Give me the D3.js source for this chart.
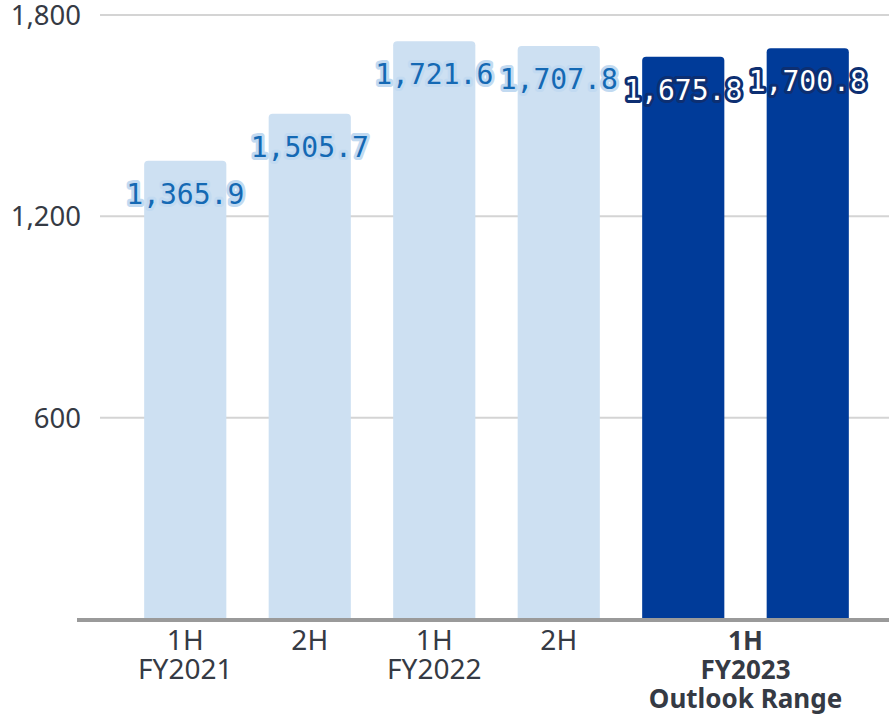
<!DOCTYPE html>
<html><head><meta charset="utf-8">
<script src="https://cdn.jsdelivr.net/npm/d3@7"></script>
<style>body{margin:0;background:#fff}</style>
</head><body>
<svg id="c" width="889" height="715"></svg>
<script>
const categories = ["1H FY2021","2H FY2021","1H FY2022","2H FY2022","1H FY2023 Low","1H FY2023 High"];
const values = [1365.9, 1505.7, 1721.6, 1707.8, 1675.8, 1700.8];
const outlook = [false,false,false,false,true,true];
const yTicks = [600, 1200, 1800];
const xLabels = [
  {from:0, to:0, lines:["1H","FY2021"], bold:false},
  {from:1, to:1, lines:["2H"], bold:false},
  {from:2, to:2, lines:["1H","FY2022"], bold:false},
  {from:3, to:3, lines:["2H"], bold:false},
  {from:4, to:5, lines:["1H","FY2023","Outlook Range"], bold:true}
];

const svg = d3.select("#c");
const x = d3.scaleBand().domain(categories).range([123, 870]).paddingInner(0.34).paddingOuter(0.17);
const y = d3.scaleLinear().domain([0, 1800]).range([619, 15]);

// gridlines
svg.append("g").selectAll("line").data(yTicks).join("line")
  .attr("x1", 100).attr("x2", 889)
  .attr("y1", d => y(d)).attr("y2", d => y(d))
  .attr("stroke", "#d4d4d4").attr("stroke-width", 2);

// y tick labels
const yAxis = d3.axisLeft(y).tickValues(yTicks).tickSize(0).tickPadding(0).tickFormat(d3.format(","));
const ya = svg.append("g").attr("transform", "translate(81,0)").call(yAxis);
ya.select(".domain").remove();
ya.selectAll("text").attr("font-family", "'Noto Sans', 'Open Sans', sans-serif")
  .attr("font-size", 27.5).attr("fill", "#353a44").attr("dy", "0.35em");

// bars
const r = 4;
svg.append("g").selectAll("path").data(categories).join("path")
  .attr("d", (c, i) => {
    const x0 = x(c), w = x.bandwidth(), yt = y(values[i]), yb = y(0);
    return `M${x0},${yb}V${yt + r}Q${x0},${yt} ${x0 + r},${yt}H${x0 + w - r}Q${x0 + w},${yt} ${x0 + w},${yt + r}V${yb}Z`;
  })
  .attr("fill", (c, i) => outlook[i] ? "#003b99" : "#cde0f2");

// baseline
svg.append("line").attr("x1", 77).attr("x2", 889).attr("y1", y(0) + 1).attr("y2", y(0) + 1)
  .attr("stroke", "#9a9a9a").attr("stroke-width", 4);

// value labels
const fmt = d3.format(",.1f");
svg.append("g").selectAll("text").data(categories).join("text")
  .attr("x", c => x(c) + x.bandwidth() / 2)
  .attr("y", (c, i) => y(values[i]) + 43)
  .attr("text-anchor", "middle")
  .attr("font-family", "'DejaVu Sans Mono', monospace")
  .attr("font-size", 28)
  .attr("paint-order", "stroke")
  .attr("stroke-width", 6)
  .attr("stroke-linejoin", "round")
  .attr("stroke", (c, i) => outlook[i] ? "#0d2f72" : "#c2daf1")
  .attr("fill", (c, i) => outlook[i] ? "#ffffff" : "#1469b4")
  .text((c, i) => fmt(values[i]));

// x labels
const xl = svg.append("g").selectAll("text").data(xLabels).join("text")
  .attr("text-anchor", "middle")
  .attr("font-family", "'Noto Sans', 'Open Sans', sans-serif")
  .attr("font-size", d => d.bold ? 26 : 28)
  .attr("font-weight", d => d.bold ? 700 : 400)
  .attr("fill", "#353a44");
xl.each(function(d) {
  const cx = (x(categories[d.from]) + x(categories[d.to]) + x.bandwidth()) / 2;
  d3.select(this).selectAll("tspan").data(d.lines).join("tspan")
    .attr("x", cx).attr("y", (l, j) => 650 + j * 29).text(l => l);
});
</script>
</body></html>
